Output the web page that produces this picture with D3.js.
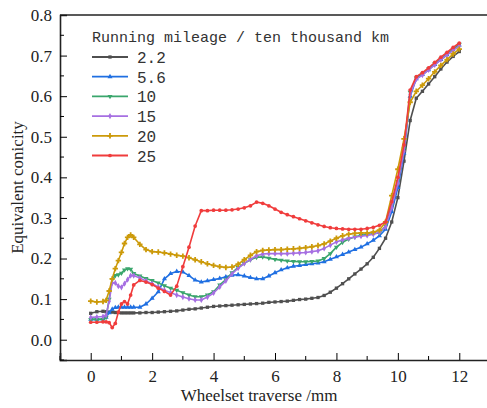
<!DOCTYPE html>
<html>
<head>
<meta charset="utf-8">
<script src="https://cdn.jsdelivr.net/npm/d3@7/dist/d3.min.js"></script>
<style>
  html, body { margin: 0; padding: 0; background: #fff; }
  svg { display: block; }
</style>
</head>
<body>
<svg id="chart" width="487" height="408"></svg>
<script>
// ---- data ----
const xValues = [0, 0.2, 0.4, 0.5, 0.6, 0.7, 0.8, 0.9, 1.0, 1.1, 1.2, 1.3, 1.4,
  1.6, 1.8, 2.0, 2.2, 2.4, 2.6, 2.8, 3.0, 3.2, 3.4, 3.6, 3.8, 4.0, 4.2, 4.4, 4.6, 4.8,
  5.0, 5.2, 5.4, 5.6, 5.8, 6.0, 6.2, 6.4, 6.6, 6.8, 7.0, 7.2, 7.4, 7.6, 7.8,
  8.0, 8.2, 8.4, 8.6, 8.8, 9.0, 9.2, 9.4, 9.6, 9.8, 10.0, 10.2, 10.4, 10.6, 10.8,
  11.0, 11.2, 11.4, 11.6, 11.8, 12.0];

const s22 = [0.065, 0.069, 0.070, 0.069, 0.068, 0.068, 0.067, 0.067, 0.066, 0.066, 0.066, 0.066, 0.066,
  0.066, 0.067, 0.067, 0.068, 0.069, 0.070, 0.071, 0.073, 0.075, 0.076, 0.078, 0.080, 0.082, 0.083, 0.084, 0.085, 0.086,
  0.087, 0.088, 0.089, 0.090, 0.092, 0.093, 0.094, 0.095, 0.097, 0.099, 0.100, 0.102, 0.104, 0.109, 0.117,
  0.127, 0.138, 0.150, 0.162, 0.174, 0.187, 0.203, 0.225, 0.250, 0.290, 0.350, 0.440, 0.540, 0.595, 0.612,
  0.630, 0.648, 0.667, 0.684, 0.698, 0.710];

const s56 = [0.050, 0.050, 0.051, 0.055, 0.066, 0.075, 0.079, 0.080, 0.080, 0.080, 0.080, 0.080, 0.080,
  0.080, 0.088, 0.102, 0.118, 0.150, 0.163, 0.168, 0.167, 0.158, 0.147, 0.142, 0.145, 0.148, 0.151, 0.155, 0.159, 0.160,
  0.157, 0.153, 0.150, 0.150, 0.157, 0.165, 0.172, 0.177, 0.181, 0.183, 0.185, 0.187, 0.189, 0.192, 0.198,
  0.204, 0.210, 0.216, 0.222, 0.228, 0.236, 0.245, 0.256, 0.272, 0.315, 0.375, 0.460, 0.600, 0.643, 0.653,
  0.665, 0.678, 0.690, 0.702, 0.714, 0.726];

const s10 = [0.050, 0.050, 0.050, 0.055, 0.100, 0.148, 0.158, 0.160, 0.164, 0.172, 0.175, 0.174, 0.163,
  0.157, 0.151, 0.146, 0.140, 0.133, 0.127, 0.122, 0.116, 0.110, 0.106, 0.106, 0.110, 0.118, 0.135, 0.148, 0.165, 0.178,
  0.188, 0.197, 0.203, 0.204, 0.201, 0.198, 0.196, 0.194, 0.193, 0.192, 0.192, 0.193, 0.194, 0.200, 0.212,
  0.228, 0.240, 0.248, 0.253, 0.257, 0.259, 0.261, 0.263, 0.280, 0.330, 0.390, 0.470, 0.610, 0.645, 0.655,
  0.667, 0.680, 0.692, 0.704, 0.716, 0.728];

const s15 = [0.055, 0.056, 0.057, 0.060, 0.095, 0.140, 0.140, 0.132, 0.129, 0.138, 0.148, 0.158, 0.158,
  0.152, 0.145, 0.138, 0.130, 0.122, 0.116, 0.110, 0.105, 0.101, 0.098, 0.098, 0.105, 0.115, 0.130, 0.145, 0.162, 0.176,
  0.188, 0.198, 0.207, 0.211, 0.212, 0.212, 0.212, 0.212, 0.213, 0.214, 0.215, 0.217, 0.219, 0.225, 0.233,
  0.241, 0.246, 0.250, 0.253, 0.255, 0.257, 0.260, 0.265, 0.278, 0.325, 0.385, 0.465, 0.605, 0.642, 0.652,
  0.665, 0.677, 0.690, 0.702, 0.713, 0.724];

const s20 = [0.095, 0.093, 0.094, 0.097, 0.120, 0.150, 0.175, 0.195, 0.215, 0.237, 0.252, 0.258, 0.252,
  0.235, 0.222, 0.217, 0.216, 0.214, 0.211, 0.208, 0.206, 0.202, 0.197, 0.192, 0.187, 0.183, 0.180, 0.178, 0.179, 0.186,
  0.197, 0.208, 0.217, 0.220, 0.221, 0.222, 0.222, 0.223, 0.224, 0.225, 0.227, 0.229, 0.232, 0.236, 0.243,
  0.250, 0.256, 0.260, 0.262, 0.263, 0.263, 0.265, 0.270, 0.290, 0.355, 0.420, 0.495, 0.585, 0.612, 0.627,
  0.643, 0.660, 0.676, 0.690, 0.704, 0.716];

const s25 = [0.043, 0.043, 0.044, 0.044, 0.042, 0.030, 0.040, 0.068, 0.088, 0.094, 0.088, 0.110, 0.135,
  0.146, 0.142, 0.136, 0.127, 0.119, 0.110, 0.132, 0.180, 0.228, 0.280, 0.318, 0.318, 0.319, 0.319, 0.319, 0.320, 0.322,
  0.325, 0.330, 0.339, 0.336, 0.330, 0.322, 0.314, 0.308, 0.303, 0.298, 0.293, 0.288, 0.283, 0.279, 0.276,
  0.274, 0.273, 0.272, 0.272, 0.272, 0.274, 0.277, 0.282, 0.290, 0.340, 0.400, 0.480, 0.615, 0.648, 0.658,
  0.670, 0.683, 0.696, 0.708, 0.720, 0.731];

const seriesNames = ["2.2", "5.6", "10", "15", "20", "25"];
const seriesValues = [s22, s56, s10, s15, s20, s25];
const seriesColors = ["#4f4f4f", "#1f6fe2", "#3aa66c", "#a66fe2", "#cc9a0a", "#f03c3c"];
const seriesSymbols = [d3.symbolSquare, d3.symbolTriangle, d3.symbolTriangle, d3.symbolDiamond, d3.symbolCross, d3.symbolCircle];

const xTicks = [0, 2, 4, 6, 8, 10, 12];
const xMinorTicks = [-1, 1, 3, 5, 7, 9, 11, 13];
const yTicks = [0.0, 0.1, 0.2, 0.3, 0.4, 0.5, 0.6, 0.7, 0.8];
const yMinorTicks = [-0.05, 0.05, 0.15, 0.25, 0.35, 0.45, 0.55, 0.65, 0.75];

const legendTitle = "Running mileage / ten thousand km";
const xLabel = "Wheelset traverse /mm";
const yLabel = "Equivalent conicity";

// ---- chart ----
const svg = d3.select("#chart");
const mLeft = 60, mRight = 490, mTop = 15, mBottom = 360;
const x = d3.scaleLinear().domain([-1, 13]).range([mLeft, mRight]);
const y = d3.scaleLinear().domain([-0.05, 0.8]).range([mBottom, mTop]);
const serif = "'Liberation Serif', 'Times New Roman', serif";
const mono = "'Liberation Mono', 'Courier New', monospace";
const symSize = t => t === d3.symbolCross ? 16 : 11;

// series
seriesValues.forEach((vals, i) => {
  const pts = xValues.map((xv, j) => [xv, vals[j]]);
  const line = d3.line().x(d => x(d[0])).y(d => y(d[1]));
  svg.append("path").datum(pts)
    .attr("d", line).attr("fill", "none")
    .attr("stroke", seriesColors[i]).attr("stroke-width", 1.6)
    .attr("stroke-linejoin", "round");
  const sym = d3.symbol().type(seriesSymbols[i]).size(symSize(seriesSymbols[i]));
  svg.append("g").selectAll("path").data(pts).join("path")
    .attr("d", sym)
    .attr("transform", d => `translate(${x(d[0])},${y(d[1])})` + (i === 2 ? " rotate(180)" : ""))
    .attr("fill", seriesColors[i]);
});

// axes
const xAxis = d3.axisBottom(x).tickValues(xTicks).tickSize(-7).tickPadding(10).tickFormat(d3.format("d"));
const gx = svg.append("g").attr("transform", `translate(0,${mBottom})`).call(xAxis);
gx.append("g").selectAll("line").data(xMinorTicks).join("line")
  .attr("x1", d => x(d)).attr("x2", d => x(d)).attr("y1", 0).attr("y2", -4)
  .attr("stroke", "#000");

const yAxis = d3.axisLeft(y).tickValues(yTicks).tickSize(-7).tickPadding(8).tickFormat(d3.format(".1f"));
const gy = svg.append("g").attr("transform", `translate(${mLeft},0)`).call(yAxis);
gy.append("g").selectAll("line").data(yMinorTicks).join("line")
  .attr("y1", d => y(d)).attr("y2", d => y(d)).attr("x1", 0).attr("x2", 4)
  .attr("stroke", "#000");

[gx, gy].forEach(g => {
  g.attr("font-family", serif).attr("font-size", 17);
  g.select(".domain").attr("stroke", "#222").attr("stroke-width", 1.6);
  g.selectAll(".tick line").attr("stroke", "#000");
  g.selectAll(".tick text").style("font-family", serif).style("font-size", "17px").attr("fill", "#222");
});

// top frame line
svg.append("line").attr("x1", mLeft).attr("x2", mRight).attr("y1", mTop).attr("y2", mTop)
  .attr("stroke", "#222").attr("stroke-width", 1.6);

// axis titles
svg.append("text").attr("x", 259).attr("y", 401).attr("text-anchor", "middle")
  .style("font-family", serif).style("font-size", "17px").attr("fill", "#222").text(xLabel);
svg.append("text").attr("transform", `translate(23,${(mTop + mBottom) / 2}) rotate(-90)`)
  .attr("text-anchor", "middle")
  .style("font-family", serif).style("font-size", "17px").attr("fill", "#222").text(yLabel);

// legend
svg.append("text").attr("x", 92).attr("y", 42)
  .style("font-family", mono).style("font-size", "15px").attr("fill", "#333").text(legendTitle);
seriesNames.forEach((name, i) => {
  const ly = 57 + i * 19.7;
  svg.append("line").attr("x1", 92).attr("x2", 128).attr("y1", ly).attr("y2", ly)
    .attr("stroke", seriesColors[i]).attr("stroke-width", 1.8);
  svg.append("path")
    .attr("d", d3.symbol().type(seriesSymbols[i]).size(symSize(seriesSymbols[i]))())
    .attr("transform", `translate(110,${ly})` + (i === 2 ? " rotate(180)" : ""))
    .attr("fill", seriesColors[i]);
  svg.append("text").attr("x", 137).attr("y", ly + 6)
    .style("font-family", mono).style("font-size", "16px").attr("fill", "#333").text(name);
});
</script>
</body>
</html>
